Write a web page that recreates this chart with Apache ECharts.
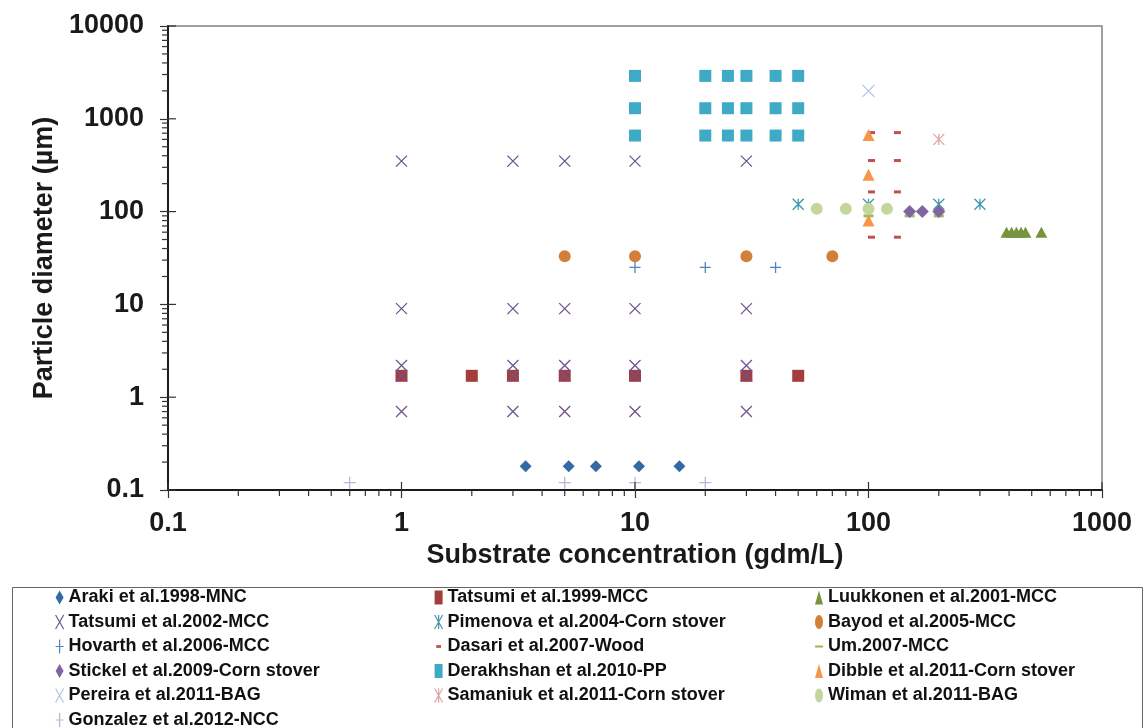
<!DOCTYPE html>
<html><head><meta charset="utf-8">
<script src="https://cdn.jsdelivr.net/npm/echarts@6/dist/echarts.min.js"></script>
<style>html,body{margin:0;padding:0;background:#fff}#c{width:1148px;height:728px}</style>
</head><body><div id="c"></div>
<script>
// ---- tick labels ----
const xTickLabels = ['0.1', '1', '10', '100', '1000'];
const yTickLabels = ['0.1', '1', '10', '100', '1000', '10000'];

// ---- series names ----
const names = [
  'Araki et al.1998-MNC', 'Tatsumi et al.1999-MCC', 'Luukkonen et al.2001-MCC',
  'Tatsumi et al.2002-MCC', 'Pimenova et al.2004-Corn stover', 'Bayod et al.2005-MCC',
  'Hovarth et al.2006-MCC', 'Dasari et al.2007-Wood', 'Um.2007-MCC',
  'Stickel et al.2009-Corn stover', 'Derakhshan et al.2010-PP', 'Dibble et al.2011-Corn stover',
  'Pereira et al.2011-BAG', 'Samaniuk et al.2011-Corn stover', 'Wiman et al.2011-BAG',
  'Gonzalez et al.2012-NCC'
];

// ---- data: [substrate concentration (gdm/L), particle diameter (µm)] ----
const araki = [[3.4, 0.18], [5.2, 0.18], [6.8, 0.18], [10.4, 0.18], [15.5, 0.18]];
const tatsumi1999 = [[1, 1.7], [2, 1.7], [3, 1.7], [5, 1.7], [10, 1.7], [30, 1.7], [50, 1.7]];
const luukkonen = [[390, 60], [410, 60], [430, 60], [450, 60], [470, 60], [550, 60]];
const tatsumi2002 = [
  [1, 350], [1, 9], [1, 2.2], [1, 1.7], [1, 0.7],
  [3, 350], [3, 9], [3, 2.2], [3, 1.7], [3, 0.7],
  [5, 350], [5, 9], [5, 2.2], [5, 1.7], [5, 0.7],
  [10, 350], [10, 9], [10, 2.2], [10, 1.7], [10, 0.7],
  [30, 350], [30, 9], [30, 2.2], [30, 1.7], [30, 0.7]
];
const pimenova = [[50, 120], [100, 120], [200, 120], [300, 120]];
const bayod = [[5, 33], [10, 33], [30, 33], [70, 33]];
const hovarth = [[10, 25], [20, 25], [40, 25]];
const dasari = [[103, 710], [133, 710], [103, 355], [133, 355], [103, 163], [133, 163], [103, 53], [133, 53]];
const um = [[100, 90], [150, 90], [200, 90]];
const stickel = [[150, 100], [170, 100], [200, 100]];
const derakhshan = [
  [10, 2900], [10, 1300], [10, 660],
  [20, 2900], [20, 1300], [20, 660],
  [25, 2900], [25, 1300], [25, 660],
  [30, 2900], [30, 1300], [30, 660],
  [40, 2900], [40, 1300], [40, 660],
  [50, 2900], [50, 1300], [50, 660]
];
const dibble = [[100, 670], [100, 250], [100, 80]];
const pereira = [[100, 2000]];
const samaniuk = [[200, 600]];
const wiman = [[60, 107], [80, 107], [100, 107], [120, 107]];
const gonzalez = [[0.6, 0.12], [5, 0.12], [10, 0.12], [20, 0.12]];

const FONT = '"Liberation Sans", Arial, sans-serif';
const X_PATH = 'path://M0,0L10,10M10,0L0,10';
const STAR_PATH = 'path://M0,0L10,10M10,0L0,10M5,0L5,10';
const PLUS_PATH = 'path://M5,0L5,10M0,5L10,5';

function filled(name, data, symbol, size, color) {
  return { type: 'scatter', name, data, symbol, symbolSize: size,
    itemStyle: { color, opacity: 1 }, emphasis: { disabled: true }, z: 3 };
}
function stroked(name, data, symbol, size, color) {
  return { type: 'scatter', name, data, symbol, symbolSize: size,
    itemStyle: { color: 'rgba(0,0,0,0)', borderColor: color, borderWidth: 1.3, opacity: 1 },
    emphasis: { disabled: true }, z: 3 };
}

const series = [
  filled(names[0], araki, 'diamond', 12, '#336aa6'),
  filled(names[1], tatsumi1999, 'rect', 12, '#a33e3c'),
  filled(names[2], luukkonen, 'triangle', [12, 11], '#77933c'),
  stroked(names[3], tatsumi2002, X_PATH, 11, '#6f5490'),
  stroked(names[4], pimenova, STAR_PATH, 11, '#3f96ae'),
  filled(names[5], bayod, 'circle', 12, '#d27f39'),
  stroked(names[6], hovarth, PLUS_PATH, 11, '#4f84c2'),
  filled(names[7], dasari, 'rect', [7, 3], '#c0504d'),
  filled(names[8], um, 'rect', [10, 3], '#9bbb59'),
  filled(names[9], stickel, 'diamond', 13, '#8064a2'),
  filled(names[10], derakhshan, 'rect', 12, '#3faac6'),
  filled(names[11], dibble, 'triangle', [12, 12], '#f79646'),
  stroked(names[12], pereira, X_PATH, 12, '#b3c4e3'),
  stroked(names[13], samaniuk, STAR_PATH, 11, '#e2a3a2'),
  filled(names[14], wiman, 'circle', 12, '#c3d69b'),
  stroked(names[15], gonzalez, PLUS_PATH, 12, '#c0b4d6')
];

// log-axis tick helpers (positions come from the axis scale via api.coord)
const xMinor = [], yMinor = [];
for (let e = -1; e < 3; e++) for (let m = 2; m < 10; m++) xMinor.push(m * Math.pow(10, e));
for (let e = -1; e < 4; e++) for (let m = 2; m < 10; m++) yMinor.push(m * Math.pow(10, e));
const xMajor = [0.1, 1, 10, 100, 1000];
const yMajor = [0.1, 1, 10, 100, 1000, 10000];

function tickSeries(vals, isX, major) {
  return {
    type: 'custom', silent: true, z: 4,
    data: vals.map(v => isX ? [v, 0.1] : [0.1, v]),
    renderItem: (params, api) => {
      const p = api.coord([api.value(0), api.value(1)]);
      let shape;
      if (isX) shape = major ? { x1: p[0], y1: p[1], x2: p[0], y2: p[1] - 8 } : { x1: p[0], y1: p[1], x2: p[0], y2: p[1] + 6 };
      else shape = major ? { x1: p[0], y1: p[1], x2: p[0] + 8, y2: p[1] } : { x1: p[0], y1: p[1], x2: p[0] - 6, y2: p[1] };
      return { type: 'line', shape, style: { stroke: '#333', lineWidth: 1.2 } };
    }
  };
}
series.push(tickSeries(xMinor, true, false), tickSeries(yMinor, false, false),
            tickSeries(xMajor, true, true), tickSeries(yMajor, false, true));

const DASH_ICON_SMALL = 'path://M0,0M10,20M2,8L8,8L8,12L2,12Z';
const DASH_ICON = 'path://M0,0M10,20M0,8.5L10,8.5L10,11.5L0,11.5Z';
const ELLIPSE_ICON = 'path://M0,10A5,10,0,1,1,10,10A5,10,0,1,1,0,10Z';
function legendItems(idx) {
  return idx.map(i => {
    const o = { name: names[i] };
    if (i === 7) o.icon = DASH_ICON_SMALL;
    if (i === 8) o.icon = DASH_ICON;
    if (i === 5 || i === 14) o.icon = ELLIPSE_ICON;
    if ([3, 4, 6, 12, 13, 15].includes(i)) o.itemStyle = { borderWidth: 1.2 };
    return o;
  });
}
const legendCommon = {
  orient: 'vertical', top: 588.5, height: 200, itemWidth: 8, itemHeight: 14, itemGap: 6.5,
  symbolKeepAspect: false, selectedMode: false, padding: 0,
  textStyle: { fontFamily: FONT, fontWeight: 'bold', fontSize: 18, color: '#111', lineHeight: 18 }
};

const chart = echarts.init(document.getElementById('c'), null, { renderer: 'canvas' });
chart.setOption({
  animation: false,
  backgroundColor: '#fff',
  grid: { left: 168, right: 46, top: 26, bottom: 238, show: true, borderColor: '#808080', borderWidth: 1.5, backgroundColor: 'transparent' },
  xAxis: {
    type: 'log', logBase: 10, min: 0.1, max: 1000,
    name: 'Substrate concentration (gdm/L)', nameLocation: 'middle', nameGap: 49,
    nameTextStyle: { fontFamily: FONT, fontWeight: 'bold', fontSize: 27, color: '#1a1a1a' },
    axisLine: { show: true, lineStyle: { color: '#1a1a1a', width: 2 } },
    axisTick: { show: true, length: 8, lineStyle: { color: '#333', width: 1.2 } },
    axisLabel: { fontFamily: FONT, fontWeight: 'bold', fontSize: 27, color: '#1a1a1a', margin: 20,
      formatter: v => xTickLabels[Math.round(Math.log10(v)) + 1] },
    splitLine: { show: false }
  },
  yAxis: {
    type: 'log', logBase: 10, min: 0.1, max: 10000,
    name: 'Particle diameter (µm)', nameLocation: 'middle', nameGap: 96, nameRotate: 90,
    nameTextStyle: { fontFamily: FONT, fontWeight: 'bold', fontSize: 27, color: '#1a1a1a' },
    axisLine: { show: true, lineStyle: { color: '#1a1a1a', width: 2 } },
    axisTick: { show: true, length: 8, lineStyle: { color: '#333', width: 1.2 } },
    axisLabel: { fontFamily: FONT, fontWeight: 'bold', fontSize: 27, color: '#1a1a1a', margin: 24,
      formatter: v => yTickLabels[Math.round(Math.log10(v)) + 1] },
    splitLine: { show: false }
  },
  legend: [
    Object.assign({}, legendCommon, { left: 55, data: legendItems([0, 3, 6, 9, 12, 15]) }),
    Object.assign({}, legendCommon, { left: 434, data: legendItems([1, 4, 7, 10, 13]) }),
    Object.assign({}, legendCommon, { left: 815, data: legendItems([2, 5, 8, 11, 14]) })
  ],
  graphic: [{
    type: 'rect', left: 10, top: 585, silent: true, z: -1,
    shape: { width: 1130, height: 160 },
    style: { fill: 'none', stroke: '#666', lineWidth: 1 }
  }],
  series
});
</script></body></html>
